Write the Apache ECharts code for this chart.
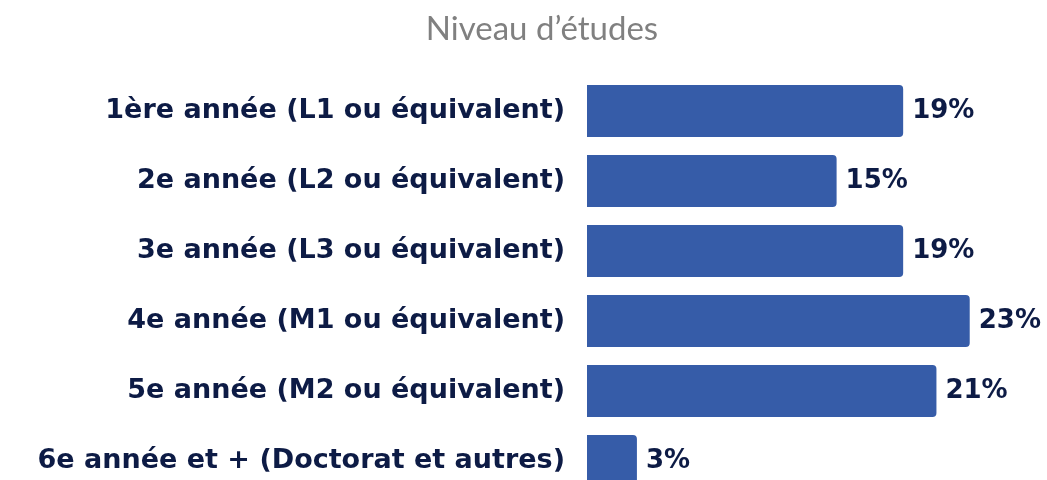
<!DOCTYPE html>
<html>
<head>
<meta charset="utf-8">
<script src="https://cdn.jsdelivr.net/npm/echarts@6/dist/echarts.min.js"></script>
<style>
  html, body { margin: 0; padding: 0; background: #ffffff; }
  #chart { width: 1047px; height: 480px; }
</style>
</head>
<body>
<div id="chart"></div>
<script>
  var categories = [
    '1ère année (L1 ou équivalent)',
    '2e année (L2 ou équivalent)',
    '3e année (L3 ou équivalent)',
    '4e année (M1 ou équivalent)',
    '5e année (M2 ou équivalent)',
    '6e année et + (Doctorat et autres)'
  ];
  var percents = [19, 15, 19, 23, 21, 3];

  var chart = echarts.init(document.getElementById('chart'));
  var option = {
    animation: false,
    title: {
      text: 'Niveau d’études',
      left: 537,
      textAlign: 'center',
      top: 8,
      textStyle: { color: '#808080', fontSize: 33, fontWeight: 'normal', fontFamily: 'Lato' }
    },
    grid: { left: 587, top: 76, width: 416, height: 420, containLabel: false, outerBoundsMode: 'none' },
    xAxis: {
      type: 'value', min: 0, max: 25,
      show: false
    },
    yAxis: {
      type: 'category',
      inverse: true,
      data: categories,
      axisLine: { show: false },
      axisTick: { show: false },
      splitLine: { show: false },
      axisLabel: {
        margin: 22,
        color: '#0d1b45',
        fontSize: 27,
        fontWeight: 'bold',
        fontFamily: 'DejaVu Sans'
      }
    },
    series: [{
      type: 'bar',
      data: percents,
      barWidth: 52,
      itemStyle: { color: '#365ca8', borderRadius: [0, 4, 4, 0] },
      label: {
        show: true,
        position: 'right',
        distance: 9,
        formatter: '{c}%',
        color: '#0d1b45',
        fontSize: 26,
        fontWeight: 'bold',
        fontFamily: 'DejaVu Sans'
      }
    }]
  };
  chart.setOption(option);
</script>
</body>
</html>
